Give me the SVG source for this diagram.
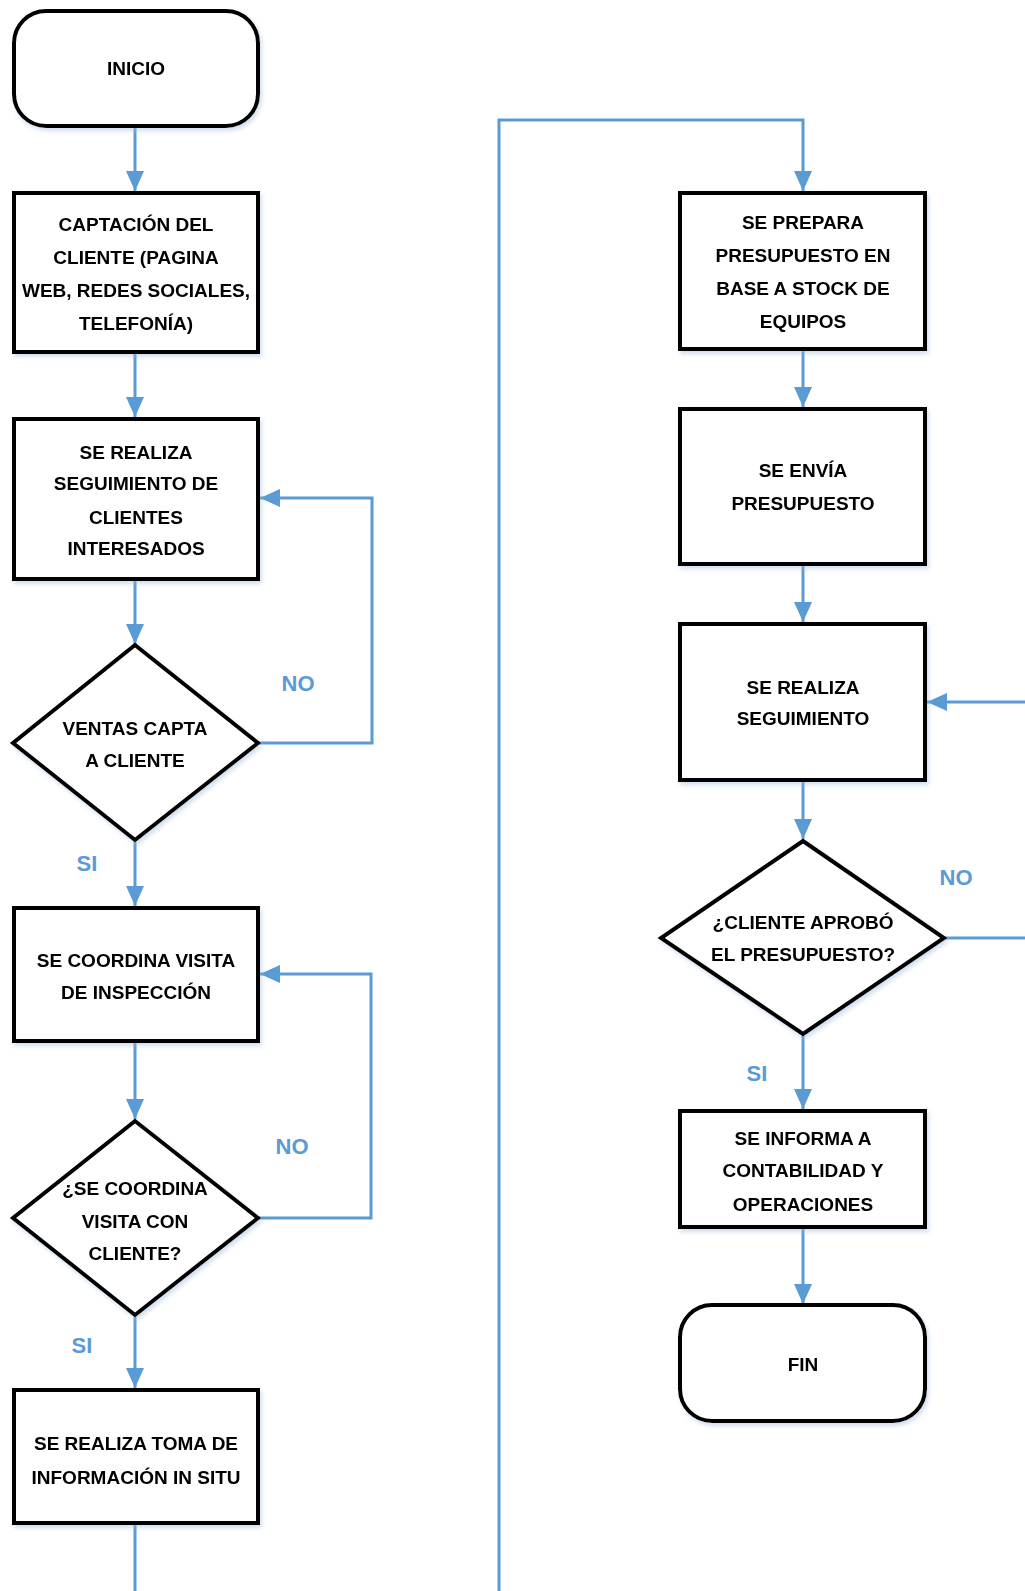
<svg xmlns="http://www.w3.org/2000/svg" width="1025" height="1591" viewBox="0 0 1025 1591">
<style>
.box{fill:#fff;stroke:#000;stroke-width:4}
.t{font-family:"Liberation Sans",Arial,sans-serif;font-weight:bold;font-size:19px;fill:#000;text-anchor:middle}
.lbl{font-family:"Liberation Sans",Arial,sans-serif;font-weight:bold;font-size:22px;fill:#5B9BD5;text-anchor:middle}
.c{fill:none;stroke:#5B9BD5;stroke-width:3}
</style>
<defs>
<marker id="ah" markerUnits="userSpaceOnUse" viewBox="0 0 20 18" refX="20" refY="9" markerWidth="20" markerHeight="18" orient="auto">
<path d="M0 0 L20 9 L0 18 z" fill="#5B9BD5"/>
</marker>
<filter id="sh" x="-10%" y="-10%" width="125%" height="130%">
<feDropShadow dx="2" dy="3" stdDeviation="2" flood-color="#9db7d9" flood-opacity="0.45"/>
</filter>
</defs>
<g id="connectors">
<path class="c" d="M135 128 V191" marker-end="url(#ah)"/>
<path class="c" d="M135 354 V417" marker-end="url(#ah)"/>
<path class="c" d="M135 581 V644" marker-end="url(#ah)"/>
<path class="c" d="M258 743 H372 V498 H260" marker-end="url(#ah)"/>
<path class="c" d="M135 842 V906" marker-end="url(#ah)"/>
<path class="c" d="M135 1043 V1119" marker-end="url(#ah)"/>
<path class="c" d="M258 1218 H371 V974 H260" marker-end="url(#ah)"/>
<path class="c" d="M135 1317 V1388" marker-end="url(#ah)"/>
<path class="c" d="M135 1525 V1591"/>
<path class="c" d="M499 1591 V120 H803 V191" marker-end="url(#ah)"/>
<path class="c" d="M803 351 V407" marker-end="url(#ah)"/>
<path class="c" d="M803 566 V622" marker-end="url(#ah)"/>
<path class="c" d="M803 782 V839" marker-end="url(#ah)"/>
<path class="c" d="M1025 702 H927" marker-end="url(#ah)"/>
<path class="c" d="M944 938 H1025"/>
<path class="c" d="M803 1036 V1109" marker-end="url(#ah)"/>
<path class="c" d="M803 1229 V1304" marker-end="url(#ah)"/>
<text class="lbl" x="298" y="691">NO</text>
<text class="lbl" x="87" y="871">SI</text>
<text class="lbl" x="292" y="1154">NO</text>
<text class="lbl" x="82" y="1353">SI</text>
<text class="lbl" x="956" y="885">NO</text>
<text class="lbl" x="757" y="1081">SI</text>
</g>
<g id="inicio" filter="url(#sh)">
<rect class="box" x="14" y="11" width="244" height="115" rx="32"/>
<text class="t" x="136" y="75">INICIO</text>
</g>
<g id="captacion" filter="url(#sh)">
<rect class="box" x="14" y="193" width="244" height="159"/>
<text class="t" x="136" y="231">CAPTACIÓN DEL</text>
<text class="t" x="136" y="264">CLIENTE (PAGINA</text>
<text class="t" x="136" y="297">WEB, REDES SOCIALES,</text>
<text class="t" x="136" y="330">TELEFONÍA)</text>
</g>
<g id="seguimiento-clientes" filter="url(#sh)">
<rect class="box" x="14" y="419" width="244" height="160"/>
<text class="t" x="136" y="459">SE REALIZA</text>
<text class="t" x="136" y="490">SEGUIMIENTO DE</text>
<text class="t" x="136" y="524">CLIENTES</text>
<text class="t" x="136" y="555">INTERESADOS</text>
</g>
<g id="ventas-capta" filter="url(#sh)">
<polygon class="box" points="135,645 258,743 135,840 13,743"/>
<text class="t" x="135" y="735">VENTAS CAPTA</text>
<text class="t" x="135" y="767">A CLIENTE</text>
</g>
<g id="coordina-visita" filter="url(#sh)">
<rect class="box" x="14" y="908" width="244" height="133"/>
<text class="t" x="136" y="967">SE COORDINA VISITA</text>
<text class="t" x="136" y="999">DE INSPECCIÓN</text>
</g>
<g id="coordina-pregunta" filter="url(#sh)">
<polygon class="box" points="135,1121 258,1218 135,1315 13,1218"/>
<text class="t" x="135" y="1195">¿SE COORDINA</text>
<text class="t" x="135" y="1228">VISITA CON</text>
<text class="t" x="135" y="1260">CLIENTE?</text>
</g>
<g id="toma-info" filter="url(#sh)">
<rect class="box" x="14" y="1390" width="244" height="133"/>
<text class="t" x="136" y="1450">SE REALIZA TOMA DE</text>
<text class="t" x="136" y="1484">INFORMACIÓN IN SITU</text>
</g>
<g id="prepara-presupuesto" filter="url(#sh)">
<rect class="box" x="680" y="193" width="245" height="156"/>
<text class="t" x="803" y="229">SE PREPARA</text>
<text class="t" x="803" y="262">PRESUPUESTO EN</text>
<text class="t" x="803" y="295">BASE A STOCK DE</text>
<text class="t" x="803" y="328">EQUIPOS</text>
</g>
<g id="envia-presupuesto" filter="url(#sh)">
<rect class="box" x="680" y="409" width="245" height="155"/>
<text class="t" x="803" y="477">SE ENVÍA</text>
<text class="t" x="803" y="510">PRESUPUESTO</text>
</g>
<g id="seguimiento" filter="url(#sh)">
<rect class="box" x="680" y="624" width="245" height="156"/>
<text class="t" x="803" y="694">SE REALIZA</text>
<text class="t" x="803" y="725">SEGUIMIENTO</text>
</g>
<g id="cliente-aprobo" filter="url(#sh)">
<polygon class="box" points="803,841 944,938 803,1034 661,938"/>
<text class="t" x="803" y="929">¿CLIENTE APROBÓ</text>
<text class="t" x="803" y="961">EL PRESUPUESTO?</text>
</g>
<g id="informa" filter="url(#sh)">
<rect class="box" x="680" y="1111" width="245" height="116"/>
<text class="t" x="803" y="1145">SE INFORMA A</text>
<text class="t" x="803" y="1177">CONTABILIDAD Y</text>
<text class="t" x="803" y="1211">OPERACIONES</text>
</g>
<g id="fin" filter="url(#sh)">
<rect class="box" x="680" y="1305" width="245" height="116" rx="32"/>
<text class="t" x="803" y="1371">FIN</text>
</g>
</svg>
